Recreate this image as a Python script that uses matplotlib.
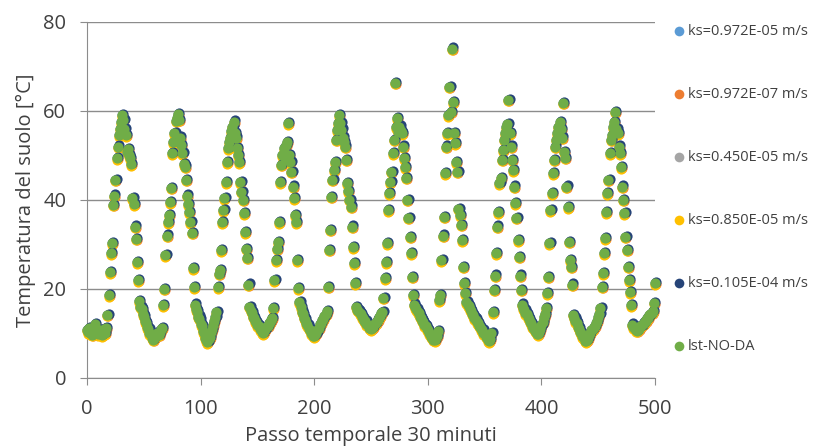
import matplotlib
matplotlib.use("Agg")
import matplotlib.pyplot as plt
import matplotlib.transforms as mtransforms
import numpy as np

# temperature del suolo, un blocco per notte / giorno
notte_0 = [10.8, 10.3, 11.2, 10.1, 9.7, 10.6, 11.5, 12.1, 11.0, 10.4, 9.8, 10.7,
           10.2, 9.6, 10.1, 10.9, 10.0, 11.3, 14.2]
giorno_1 = [18.6, 23.8, 28.0, 30.3, 38.9, 41.0, 44.5, 49.4, 52.0, 54.6, 56.0, 57.5,
            59.0, 58.0, 56.0, 54.5, 50.8, 51.5, 50.0, 49.4, 48.0, 40.4, 39.0, 34.0,
            31.3, 26.0, 22.0]
notte_1 = [17.2, 16.0, 15.4, 14.3, 13.8, 12.8, 12.3, 11.4, 11.0, 10.1, 9.8, 9.0,
           8.6, 8.9, 9.3, 9.9, 10.2, 9.7, 10.4, 10.9, 11.2]
giorno_2 = [16.4, 20.0, 27.6, 32.0, 35.0, 36.6, 39.5, 42.7, 50.5, 53.0, 55.0, 57.8,
            58.5, 59.3, 58.0, 54.0, 52.4, 50.5, 48.0, 47.5, 44.5, 41.0, 39.0, 37.3,
            35.0, 32.6, 24.7, 20.4]
notte_2 = [16.5, 15.4, 14.9, 13.8, 13.3, 12.1, 11.6, 10.5, 10.0, 9.0, 8.5, 8.0,
           8.7, 9.2, 10.3, 10.9, 12.0, 12.7, 13.7, 14.8]
giorno_3 = [20.4, 23.4, 24.3, 28.7, 35.0, 37.7, 40.4, 44.0, 48.5, 51.6, 53.0, 54.0,
            55.5, 56.5, 57.6, 55.0, 54.0, 51.6, 50.0, 48.5, 44.0, 41.8, 40.0, 37.0,
            32.8, 29.0, 27.0, 21.0]
notte_3 = [16.0, 15.1, 14.7, 13.8, 13.5, 12.7, 12.5, 11.8, 11.7, 11.0, 10.9, 10.3,
           10.1, 10.6, 10.9, 11.5, 11.7, 12.3, 12.5, 13.1, 13.5]
giorno_4 = [15.7, 22.0, 26.5, 29.0, 30.5, 35.0, 44.0, 47.9, 50.0, 51.6, 49.4, 52.4,
            53.0, 57.3, 50.0, 48.5, 46.3, 43.0, 40.4, 36.6, 35.0, 26.5, 20.2]
notte_4 = [17.0, 15.9, 14.9, 14.4, 13.5, 13.1, 12.3, 11.9, 11.1, 10.8, 10.1, 9.9,
           9.5, 9.4, 9.9, 10.2, 11.0, 11.3, 12.1, 12.3, 13.0, 13.2, 13.9, 14.3, 15.0]
giorno_5 = [20.5, 28.8, 33.3, 40.7, 44.5, 46.7, 48.5, 53.5, 55.7, 57.3, 59.0, 57.3,
            55.8, 54.0, 53.0, 52.0, 49.0, 43.8, 42.0, 40.0, 38.5, 34.0, 29.4, 25.8,
            21.3]
notte_5 = [16.0, 15.3, 15.1, 14.5, 14.3, 13.7, 13.5, 12.9, 12.7, 12.1, 11.9, 11.3,
           11.2, 10.9, 11.3, 11.5, 12.1, 12.3, 12.9, 13.1, 13.7, 13.9, 14.5, 14.8]
giorno_6 = [18.0, 22.4, 26.0, 30.3, 37.7, 41.5, 44.0, 46.3, 50.5, 53.5, 66.3, 56.4,
            58.4, 55.3, 56.5, 55.5, 55.0, 52.0, 49.4, 47.4, 45.0, 40.0, 36.0, 31.7,
            28.0, 22.7, 18.6]
notte_6 = [16.5, 15.9, 15.5, 14.8, 14.5, 13.8, 13.5, 12.9, 12.6, 11.9, 11.7, 11.0,
           10.8, 10.1, 9.9, 9.3, 9.1, 8.6, 8.5, 9.1, 9.5, 10.5]
giorno_7 = [17.5, 18.6, 26.5, 32.0, 36.2, 46.0, 52.0, 55.0, 59.0, 65.4, 59.8, 74.0,
            62.0, 55.0, 52.8, 48.5, 46.3, 38.0, 36.6, 34.4, 31.0, 25.0, 21.3, 19.0]
notte_7 = [17.0, 16.4, 16.1, 15.4, 15.1, 14.4, 14.1, 13.4, 13.1, 12.5, 12.3, 11.7,
           11.5, 10.9, 10.7, 10.1, 9.9, 9.3, 9.1, 8.5, 8.3, 8.7, 10.0]
giorno_8 = [14.8, 19.8, 23.0, 28.0, 34.0, 37.3, 43.8, 45.0, 49.0, 51.2, 53.5, 55.0,
            56.4, 57.0, 62.5, 55.0, 52.0, 49.0, 46.7, 43.0, 39.3, 36.0, 31.0, 27.2,
            23.0, 19.8]
notte_8 = [16.5, 15.7, 15.3, 14.6, 14.3, 13.6, 13.3, 12.6, 12.3, 11.6, 11.3, 10.6,
           10.4, 9.9, 9.8, 10.4, 10.9, 11.9, 12.5, 13.6, 14.4, 15.7]
giorno_9 = [19.0, 22.7, 30.3, 37.7, 41.5, 46.0, 49.0, 52.0, 53.5, 55.0, 56.5, 57.5,
            56.0, 54.0, 61.8, 50.8, 49.5, 43.0, 38.4, 30.6, 26.5, 25.0, 21.0, 14.2]
notte_9 = [13.5, 12.7, 12.3, 11.5, 11.1, 10.4, 10.1, 9.4, 9.1, 8.4, 8.2, 8.6,
           8.9, 9.7, 10.1, 10.7, 10.9, 11.5, 11.7, 12.3, 12.7, 13.6, 14.3]
giorno_10 = [15.7, 20.5, 23.5, 28.0, 31.4, 37.3, 41.5, 44.5, 50.5, 53.5, 54.5, 56.4,
             57.5, 59.8, 56.0, 55.0, 52.0, 50.5, 47.4, 43.0, 40.0, 37.0, 31.7, 28.8,
             25.0, 22.0, 19.3, 16.4]
notte_10 = [12.0, 11.4, 11.1, 10.7, 10.6, 11.0, 11.1, 11.6, 11.7, 12.2, 12.3, 12.8,
            12.9, 13.4, 13.5, 14.1, 14.3, 14.7, 15.0, 16.9, 21.3]

blocchi = [notte_0, giorno_1, notte_1, giorno_2, notte_2, giorno_3, notte_3,
           giorno_4, notte_4, giorno_5, notte_5, giorno_6, notte_6, giorno_7,
           notte_7, giorno_8, notte_8, giorno_9, notte_9, giorno_10, notte_10]
lst_no_da = np.concatenate(blocchi)
passo = np.arange(len(lst_no_da))

# le simulazioni ks coincidono con lst-NO-DA alla risoluzione del grafico
serie = [
    ("ks=0.972E-05 m/s", "#5B9BD5", lst_no_da),
    ("ks=0.972E-07 m/s", "#ED7D31", lst_no_da),
    ("ks=0.450E-05 m/s", "#A5A5A5", lst_no_da),
    ("ks=0.850E-05 m/s", "#FFC000", lst_no_da),
    ("ks=0.105E-04 m/s", "#264478", lst_no_da),
    ("lst-NO-DA", "#70AD47", lst_no_da),
]
spost = [(0, 0), (1, 1), (0, 0), (0, 1.5), (1.2, -1.2), (0, 0)]

testo = "#404040"
plt.rcParams["font.family"] = ["Open Sans", "DejaVu Sans"]

fig = plt.figure(figsize=(8.16, 4.46), dpi=100)
ax = fig.add_axes([0.1066, 0.1525, 0.6961, 0.7982])

for (nome, colore, valori), (dx, dy) in zip(serie, spost):
    tr = mtransforms.offset_copy(ax.transData, fig=fig, x=dx, y=-dy, units="dots")
    ax.scatter(passo, valori, s=54, color=colore, label=nome, transform=tr,
               linewidths=0, clip_on=False, zorder=3)

ax.set_xlim(0, 500)
ax.set_ylim(0, 80)
ax.set_xticks(range(0, 501, 100))
ax.set_yticks(range(0, 81, 20))
ax.grid(axis="y", color="#8C8C8C", linewidth=1.0)
ax.set_axisbelow(True)
for lato in ["top", "right"]:
    ax.spines[lato].set_visible(False)
ax.spines["left"].set_color("#8C8C8C")
ax.spines["bottom"].set_color("#8C8C8C")
ax.tick_params(axis="y", length=5, color="#8C8C8C", labelsize=14.5, labelcolor=testo, pad=10)
ax.tick_params(axis="x", length=5, color="#8C8C8C", labelsize=14.5, labelcolor=testo, pad=10)

ax.set_xlabel("Passo temporale 30 minuti", fontsize=14.5, color=testo, labelpad=5)
ax.set_ylabel("Temperatura del suolo [°C]", fontsize=14.5, color=testo, labelpad=5)

leg = ax.legend(loc="upper left", bbox_to_anchor=(1.02, 1.012), frameon=False,
                fontsize=10.5, labelspacing=3.3, handletextpad=0.05,
                markerscale=0.95, borderaxespad=0, handlelength=1.0)
for t in leg.get_texts():
    t.set_color(testo)

fig.savefig("out.png", dpi=100)
